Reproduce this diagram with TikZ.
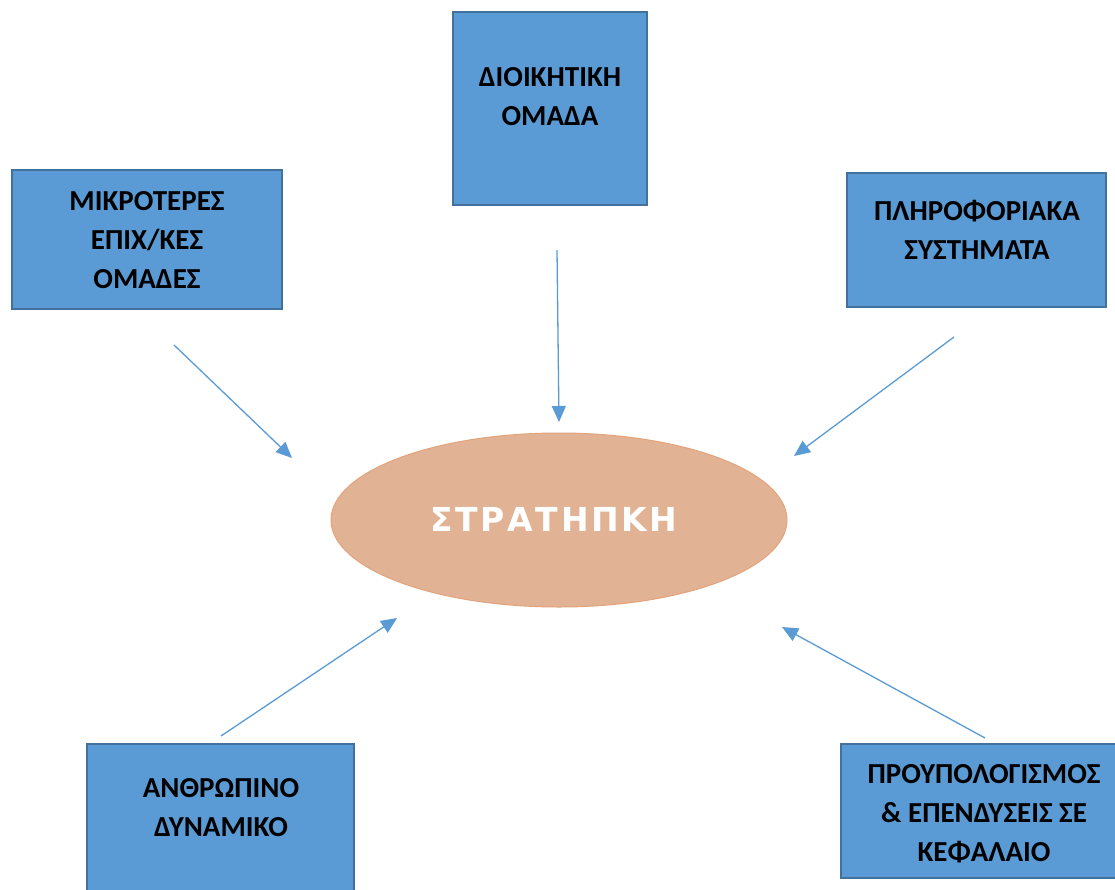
\documentclass[tikz,border=0pt]{standalone}
\usepackage{fontspec}
\setmainfont{Carlito}
\newfontfamily\ellfont[LetterSpace=8]{DejaVu Sans}
\usetikzlibrary{arrows.meta}
\definecolor{boxfill}{HTML}{5B9BD5}
\definecolor{boxline}{HTML}{41719C}
\definecolor{ellfill}{HTML}{E1B293}
\definecolor{ellline}{HTML}{E3A47C}
\definecolor{arrowblue}{HTML}{5B9BD5}
\tikzset{
  unitbox/.style={draw=boxline, fill=boxfill, line width=2pt},
  boxtext/.style={align=center, font=\fontsize{29}{39}\selectfont\bfseries, text=black, inner sep=0pt},
  link/.style={draw=arrowblue, line width=1.3pt, -{Triangle[length=16pt,width=14pt]}}
}
\begin{document}
\begin{tikzpicture}[x=1pt,y=-1pt]
\useasboundingbox (0,0) rectangle (1115,889);
\fill[white] (0,0) rectangle (1115,889);

% boxes
\draw[unitbox] (453,12) rectangle (647,205);
\draw[unitbox] (12,170) rectangle (282,309);
\draw[unitbox] (847,173) rectangle (1106,307);
\draw[unitbox] (87,744) rectangle (354,900);
\draw[unitbox] (841,744) rectangle (1126,878);

% box labels
\node[boxtext] (dioik) at (550,97) {ΔΙΟΙΚΗΤΙΚΗ\\ΟΜΑΔΑ};
\node[boxtext] (mikro) at (147,240) {ΜΙΚΡΟΤΕΡΕΣ\\ΕΠΙΧ/ΚΕΣ\\ΟΜΑΔΕΣ};
\node[boxtext] (plir) at (977,230) {ΠΛΗΡΟΦΟΡΙΑΚΑ\\ΣΥΣΤΗΜΑΤΑ};
\node[boxtext] (anthr) at (221,808) {ΑΝΘΡΩΠΙΝΟ\\ΔΥΝΑΜΙΚΟ};
\node[boxtext] (proyp) at (984,814) {ΠΡΟΥΠΟΛΟΓΙΣΜΟΣ\\\&\ ΕΠΕΝΔΥΣΕΙΣ ΣΕ\\ΚΕΦΑΛΑΙΟ};

% central ellipse
\draw[fill=ellfill, draw=ellline, line width=1pt] (559,520) ellipse [x radius=228, y radius=87];
\node[text=white, inner sep=0pt, font=\ellfont\fontsize{33}{40}\selectfont\bfseries] (strat) at (554,519) {ΣΤΡΑΤΗΠΚΗ};

% arrow end points
\coordinate (a1s) at (557,250); \coordinate (a1e) at (559,422);
\coordinate (a2s) at (174,345); \coordinate (a2e) at (292,458);
\coordinate (a3s) at (954,337); \coordinate (a3e) at (794,456);
\coordinate (a4s) at (221,736); \coordinate (a4e) at (397,618);
\coordinate (a5s) at (985,738); \coordinate (a5e) at (782,627);

\draw[link] (a1s) -- (a1e);
\draw[link] (a2s) -- (a2e);
\draw[link] (a3s) -- (a3e);
\draw[link] (a4s) -- (a4e);
\draw[link] (a5s) -- (a5e);
\end{tikzpicture}
\end{document}
